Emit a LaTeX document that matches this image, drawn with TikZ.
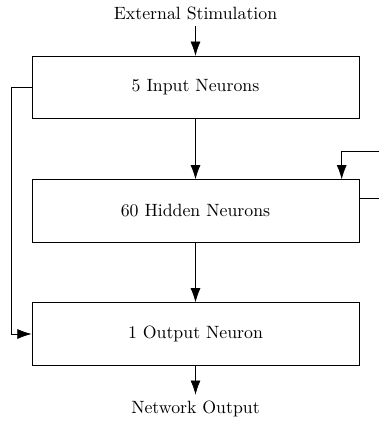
\documentclass[tikz,border=0pt]{standalone}
\usepackage{tikz}
\usetikzlibrary{arrows.meta,calc,positioning}

\begin{document}
\begin{tikzpicture}[x=0.5625pt,y=-0.5625pt]
    \tikzset{layer/.style = {draw, minimum width=184pt, minimum height=35.2pt},
      >={Latex[length=8pt,width=5.6pt]}}
    \useasboundingbox (0,0) rectangle (379,426);
    \node (stim) at (195.5,13) {External Stimulation};
    \node[layer] (input) at (195.5,87.5) {5 Input Neurons};
    \node[layer] (hidden) at (195.5,211) {60 Hidden Neurons};
    \node[layer] (output) at (195.5,334) {1 Output Neuron};
    \node (netout) at (195.5,409) {Network Output};
    % skip path from input to output
    \coordinate (lp) at (11,87.5);
    % recurrent loop on hidden layer
    \coordinate (ra) at (400,198);
    \coordinate (rb) at (400,151);
    \coordinate (rc) at (341.7,151);
    \draw[->] (stim) -- (input);
    \draw[->] (input) -- (hidden);
    \draw[->] (hidden) -- (output);
    \draw[->] (output) -- (netout);
    \draw[->] (input.west) -- (lp) |- (output.west);
    \draw[->] (hidden.east |- ra) -- (ra) -- (rb) -- (rc) -- (rc |- hidden.north);
  \end{tikzpicture}
\end{document}
